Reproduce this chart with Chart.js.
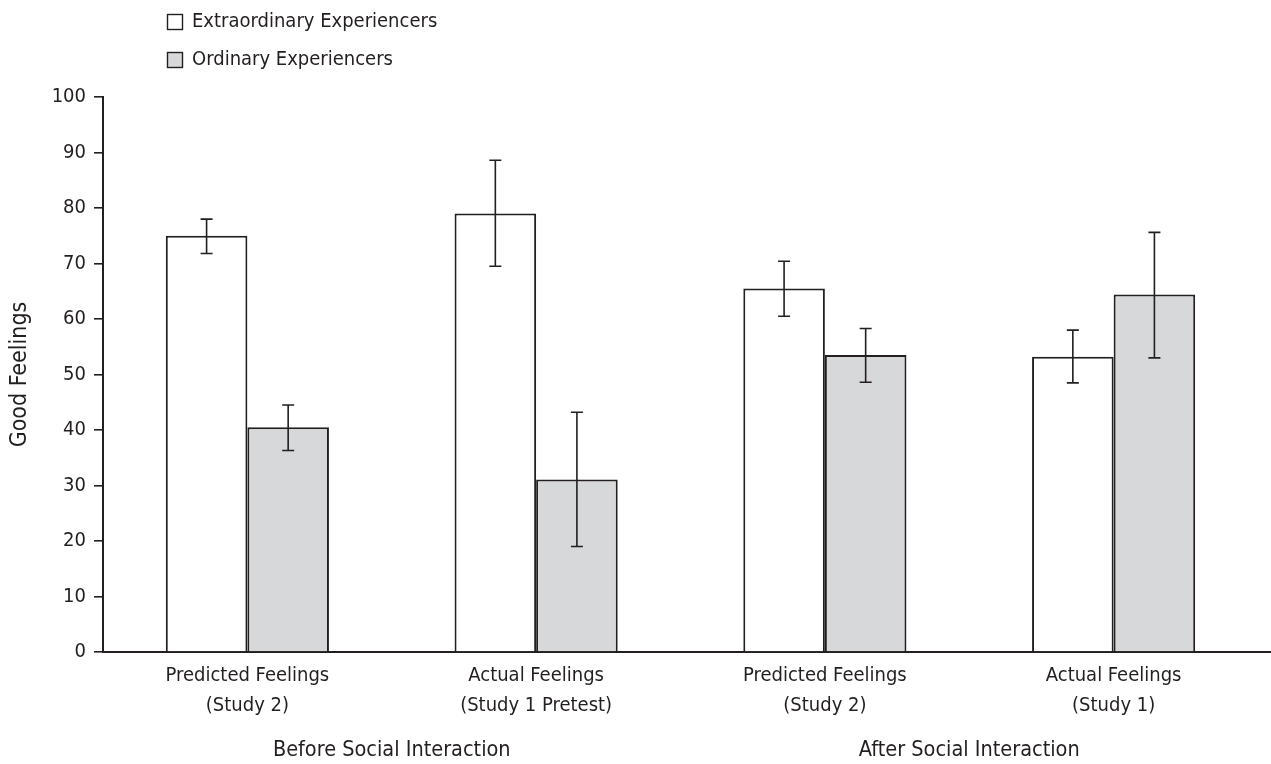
<!DOCTYPE html>
<html>
<head>
<meta charset="utf-8">
<script src="https://cdn.jsdelivr.net/npm/chart.js@4/dist/chart.umd.min.js"></script>
<style>
  html, body { margin: 0; padding: 0; background: #fff; }
  #wrap { width: 1271px; height: 764px; position: relative; }
</style>
</head>
<body>
<div id="wrap"><canvas id="c"></canvas></div>
<script>
// Category labels (two lines each) and the phase each pair belongs to
const categories = [
  ['Predicted Feelings', '(Study 2)'],
  ['Actual Feelings', '(Study 1 Pretest)'],
  ['Predicted Feelings', '(Study 2)'],
  ['Actual Feelings', '(Study 1)']
];
const phaseLabels = ['Before Social Interaction', 'After Social Interaction'];
const seriesNames = ['Extraordinary Experiencers', 'Ordinary Experiencers'];

// Mean good feelings and error-bar ends
const extraordinary = [75, 79, 65.5, 53.2];
const extraordinaryLow = [71.8, 69.5, 60.5, 48.5];
const extraordinaryHigh = [78.0, 88.6, 70.4, 58.0];

const ordinary = [40.5, 31.1, 53.5, 64.4];
const ordinaryLow = [36.3, 19.0, 48.6, 53.0];
const ordinaryHigh = [44.5, 43.2, 58.3, 75.6];

const yTicks = [0, 10, 20, 30, 40, 50, 60, 70, 80, 90, 100];

const INK = '#231f20';
const GREY_FILL = '#d7d8da';
const FONT = "'Liberation Sans Narrow', 'DejaVu Sans Condensed', 'Arial Narrow', sans-serif";

const errorRanges = [
  { low: extraordinaryLow, high: extraordinaryHigh },
  { low: ordinaryLow, high: ordinaryHigh }
];

// Draws the error bars with small caps on top of each bar
const errorBarPlugin = {
  id: 'errorBars',
  afterDatasetsDraw(chart) {
    const ctx = chart.ctx;
    const y = chart.scales.y;
    ctx.save();
    ctx.strokeStyle = INK;
    ctx.lineWidth = 1.6;
    chart.data.datasets.forEach((ds, di) => {
      const meta = chart.getDatasetMeta(di);
      const r = errorRanges[di];
      meta.data.forEach((bar, i) => {
        const x = bar.x;
        const yl = y.getPixelForValue(r.low[i]);
        const yh = y.getPixelForValue(r.high[i]);
        const cap = 6;
        ctx.beginPath();
        ctx.moveTo(x, yl); ctx.lineTo(x, yh);
        ctx.moveTo(x - cap, yl); ctx.lineTo(x + cap, yl);
        ctx.moveTo(x - cap, yh); ctx.lineTo(x + cap, yh);
        ctx.stroke();
      });
    });
    ctx.restore();
  }
};

// Stacked legend at top-left, the baseline run-out to the right edge,
// and the phase labels below the category labels
const annotationsPlugin = {
  id: 'annotations',
  afterDraw(chart) {
    const ctx = chart.ctx;
    const xs = chart.scales.x;
    const area = chart.chartArea;
    ctx.save();

    ctx.strokeStyle = INK;
    ctx.lineWidth = 2;
    ctx.beginPath();
    ctx.moveTo(area.right - 2, area.bottom);
    ctx.lineTo(chart.width, area.bottom);
    ctx.stroke();

    ctx.font = '20px ' + FONT;
    ctx.textBaseline = 'middle';
    ctx.textAlign = 'left';
    const rows = [22, 60];
    const fills = ['#ffffff', GREY_FILL];
    seriesNames.forEach((name, i) => {
      const cy = rows[i];
      ctx.fillStyle = fills[i];
      ctx.fillRect(167.5, cy - 7.5, 15, 15);
      ctx.strokeStyle = INK;
      ctx.lineWidth = 1.4;
      ctx.strokeRect(167.5, cy - 7.5, 15, 15);
      ctx.fillStyle = INK;
      ctx.fillText(name, 192, cy);
    });

    ctx.font = '21.5px ' + FONT;
    ctx.textAlign = 'center';
    phaseLabels.forEach((txt, p) => {
      const a = xs.getPixelForValue(p * 2);
      const b = xs.getPixelForValue(p * 2 + 1);
      ctx.fillText(txt, (a + b) / 2, 750);
    });
    ctx.restore();
  }
};

new Chart(document.getElementById('c'), {
  type: 'bar',
  data: {
    labels: categories,
    datasets: [
      {
        label: seriesNames[0],
        data: extraordinary,
        backgroundColor: '#ffffff',
        borderColor: INK,
        borderWidth: 2,
        borderSkipped: 'bottom',
        categoryPercentage: 0.565,
        barPercentage: 1.0
      },
      {
        label: seriesNames[1],
        data: ordinary,
        backgroundColor: GREY_FILL,
        borderColor: INK,
        borderWidth: 2,
        borderSkipped: 'bottom',
        categoryPercentage: 0.565,
        barPercentage: 1.0
      }
    ]
  },
  options: {
    responsive: true,
    maintainAspectRatio: false,
    animation: false,
    layout: { padding: { top: 97, right: 13, bottom: 0, left: 0 } },
    plugins: {
      legend: { display: false },
      tooltip: { enabled: false }
    },
    scales: {
      x: {
        grid: { display: false, drawTicks: false },
        border: { display: true, color: INK, width: 2 },
        ticks: {
          color: INK,
          font: { family: FONT, size: 20, lineHeight: 1.5 },
          padding: 9,
          maxRotation: 0,
          autoSkip: false
        },
        afterFit(scale) { scale.height = 112; }
      },
      y: {
        min: 0,
        max: 100,
        afterBuildTicks(scale) { scale.ticks = yTicks.map(v => ({ value: v })); },
        grid: { display: true, drawOnChartArea: false, drawTicks: true, tickLength: 9, color: INK, lineWidth: 1.6 },
        border: { display: true, color: INK, width: 2 },
        ticks: {
          color: INK,
          font: { family: FONT, size: 20 },
          padding: 8
        },
        title: {
          display: true,
          text: 'Good Feelings',
          color: INK,
          font: { family: FONT, size: 23 },
          padding: { top: 6, bottom: 0 }
        },
        afterFit(scale) { scale.width = 103; }
      }
    }
  },
  plugins: [errorBarPlugin, annotationsPlugin]
});
</script>
</body>
</html>
